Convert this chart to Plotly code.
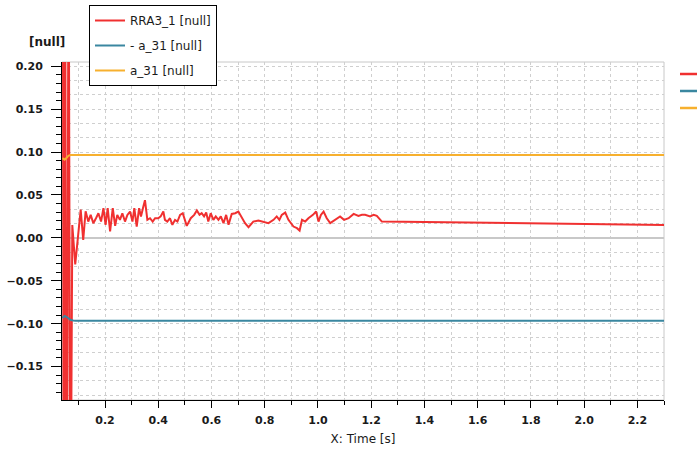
import plotly.graph_objects as go

# ---- data ----
rra_t = [0.041, 0.045, 0.049, 0.056, 0.063, 0.070, 0.077, 0.088, 0.1085, 0.118, 0.127,
         0.137, 0.146, 0.156, 0.166, 0.175, 0.185, 0.194, 0.202, 0.210, 0.219, 0.229,
         0.238, 0.246, 0.256, 0.265, 0.275, 0.284, 0.294, 0.303, 0.310, 0.319, 0.328,
         0.335, 0.344, 0.350, 0.359, 0.369, 0.379, 0.388, 0.400, 0.409, 0.419, 0.425,
         0.434, 0.444, 0.453, 0.463, 0.472, 0.482, 0.492, 0.507, 0.522, 0.535, 0.545,
         0.555, 0.563, 0.572, 0.580, 0.588, 0.597, 0.607, 0.616, 0.626, 0.635, 0.645,
         0.655, 0.664, 0.676, 0.689, 0.701, 0.714, 0.726, 0.739, 0.757, 0.776, 0.795,
         0.814, 0.833, 0.845, 0.855, 0.864, 0.877, 0.889, 0.908, 0.921, 0.931, 0.940,
         0.952, 0.964, 0.981, 0.993, 1.002, 1.011, 1.021, 1.033, 1.046, 1.065, 1.083,
         1.098, 1.115, 1.134, 1.152, 1.165, 1.177, 1.196, 1.209, 1.221, 1.240, 2.300]
rra_v = [0.5, -0.5, 0.5, -0.5, 0.4, -0.4, 0.015, -0.031, 0.033, -0.0025, 0.031,
         0.019, 0.0268, 0.0171, 0.0229, 0.0287, 0.019, 0.0346, 0.0152, 0.0346, 0.0074, 0.0346,
         0.014, 0.0268, 0.021, 0.0287, 0.019, 0.0268, 0.0307, 0.019, 0.0346, 0.0132, 0.0346,
         0.025, 0.0365, 0.044, 0.021, 0.0229, 0.019, 0.0229, 0.0229, 0.025, 0.0307, 0.021,
         0.019, 0.0229, 0.0152, 0.021, 0.019, 0.0268, 0.0287, 0.014, 0.0229, 0.0268, 0.032,
         0.0268, 0.0287, 0.025, 0.0295, 0.019, 0.0287, 0.021, 0.025, 0.021, 0.025, 0.0171,
         0.0268, 0.0152, 0.0279, 0.0287, 0.0307, 0.0229, 0.0171, 0.0124, 0.019, 0.0202, 0.019,
         0.0171, 0.021, 0.025, 0.021, 0.0268, 0.0295, 0.021, 0.0132, 0.0113, 0.0085, 0.021,
         0.019, 0.0229, 0.0268, 0.0307, 0.019, 0.0268, 0.0307, 0.0229, 0.0171, 0.021, 0.025,
         0.021, 0.0229, 0.0279, 0.0256, 0.0268, 0.0268, 0.025, 0.0268, 0.0256, 0.019, 0.015]

a31_t = [0.040, 0.048, 0.055, 0.062, 0.070, 0.080, 0.090, 2.300]
neg_a31_v = [-0.0935, -0.0910, -0.0920, -0.0940, -0.0955, -0.0962, -0.0965, -0.0965]
a31_v = [0.0930, 0.0910, 0.0930, 0.0955, 0.0965, 0.0967, 0.0967, 0.0967]

names = ["RRA3_1 [null]", "- a_31 [null]", "a_31 [null]"]
colors = ["#f03030", "#3a87a0", "#f7b02e"]

x_range = [0.0383, 2.30]
y_range = [-0.189, 0.205]

fig = go.Figure()
fig.add_trace(go.Scatter(x=rra_t, y=rra_v, mode="lines", name=names[0],
                         line=dict(color=colors[0], width=2), legendgroup="g1"))
fig.add_trace(go.Scatter(x=a31_t, y=neg_a31_v, mode="lines", name=names[1],
                         line=dict(color=colors[1], width=2), legendgroup="g2"))
fig.add_trace(go.Scatter(x=a31_t, y=a31_v, mode="lines", name=names[2],
                         line=dict(color=colors[2], width=2), legendgroup="g3"))
# empty trace for the grid axis
fig.add_trace(go.Scatter(x=[], y=[], yaxis="y2", showlegend=False, hoverinfo="skip"))

tickfont = dict(family="DejaVu Sans", size=11, color="#1a1a1a", weight="bold")

fig.update_layout(
    width=697, height=454,
    margin=dict(l=62, r=33, t=62, b=54, autoexpand=False),
    paper_bgcolor="white", plot_bgcolor="white",
    font=dict(family="DejaVu Sans", size=12, color="#1a1a1a"),
    showlegend=True,
    legend=dict(x=(89 - 62) / 602, y=(400 - 5) / 338, xanchor="left", yanchor="top",
                bgcolor="white", bordercolor="black", borderwidth=1,
                font=dict(family="DejaVu Sans", size=12, color="#1a1a1a"),
                tracegroupgap=6, traceorder="grouped"),
    xaxis=dict(range=x_range, dtick=0.2, tick0=0, tickformat=".1f",
               ticks="outside", ticklen=7, tickcolor="black", tickwidth=1,
               showline=True, linecolor="black", linewidth=1, automargin=False,
               showgrid=True, gridcolor="#cfcfcf", griddash="dot", gridwidth=1,
               zeroline=False, tickfont=tickfont, ticklabelstandoff=3,
               minor=dict(dtick=0.1, tick0=0, ticks="outside", ticklen=4,
                          tickcolor="black", showgrid=True, gridcolor="#cfcfcf",
                          griddash="dot"),
               title=dict(text="X: Time [s]", font=dict(size=12), standoff=8)),
    yaxis=dict(range=y_range, dtick=0.05, tick0=0, tickformat=".2f",
               ticks="outside", ticklen=10, tickcolor="black", tickwidth=1,
               showline=True, linecolor="black", linewidth=1, automargin=False,
               showgrid=False, zeroline=True, zerolinecolor="#c8c8c8", zerolinewidth=2,
               tickfont=tickfont, ticklabelstandoff=6,
               minor=dict(dtick=0.01, tick0=0, ticks="outside", ticklen=5,
                          tickcolor="black", showgrid=False)),
    yaxis2=dict(range=y_range, overlaying="y", side="left", dtick=0.05 / 3, tick0=0,
                showticklabels=False, ticks="", showline=False, zeroline=False,
                automargin=False,
                showgrid=True, gridcolor="#cfcfcf", griddash="dot", gridwidth=1),
    annotations=[dict(text="<b>[null]</b>", xref="paper", yref="paper",
                      x=(27 - 62) / 602, y=(400 - 42) / 338, xanchor="left", yanchor="middle",
                      showarrow=False, font=dict(family="DejaVu Sans", size=12, color="#1a1a1a"))],
    shapes=[dict(type="rect", xref="paper", yref="paper", x0=0, x1=1, y0=0, y1=1,
                 line=dict(color="#c8c8c8", width=1), layer="below")] +
           [dict(type="line", xref="paper", yref="paper",
                 x0=(680 - 62) / 602, x1=(700 - 62) / 602,
                 y0=(400 - yy) / 338, y1=(400 - yy) / 338,
                 line=dict(color=c, width=2.5))
            for yy, c in zip([74, 91, 108], colors)],
)

fig.write_html("out.html", config={"displayModeBar": False},
               post_script="document.body.style.margin='0';document.body.style.overflow='hidden';")
